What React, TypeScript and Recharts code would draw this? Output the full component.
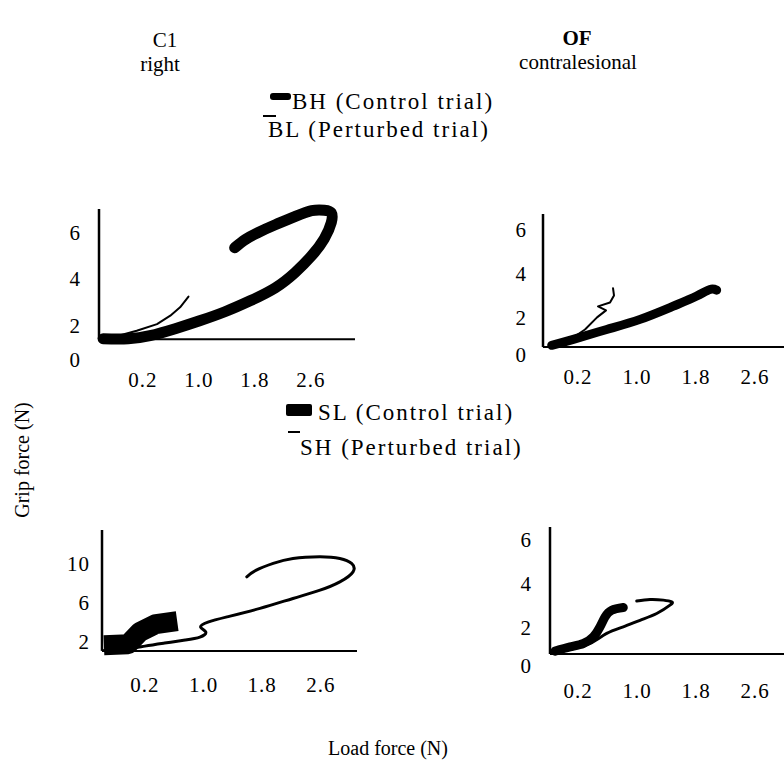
import type { CSSProperties, ReactNode } from "react";
import { Line, LineChart, XAxis, YAxis } from "recharts";

const SERIF = '"Liberation Serif", "Times New Roman", serif';

const loadTicks = [0.2, 1.0, 1.8, 2.6];

// C1 right, upper pair: BH control vs BL perturbed
const c1BhLoad = [-0.37, -0.01, 0.3, 0.66, 1.01, 1.37, 1.73, 2.09, 2.37, 2.61, 2.79, 2.89, 2.89, 2.79, 2.61, 2.37, 2.09, 1.84, 1.66, 1.51];
const c1BhGrip = [1.42, 1.42, 1.55, 1.85, 2.19, 2.58, 3.05, 3.61, 4.26, 4.99, 5.72, 6.41, 6.84, 6.95, 6.93, 6.67, 6.32, 5.98, 5.68, 5.33];
const c1BlLoad = [-0.3, -0.15, 0.11, 0.4, 0.59, 0.73, 0.85];
const c1BlGrip = [1.45, 1.55, 1.76, 2.05, 2.41, 2.77, 3.23];

// OF contralesional, upper pair
const ofBhLoad = [-0.157, 0.136, 0.589, 1.041, 1.492, 1.81, 1.99, 2.08];
const ofBhGrip = [0.73, 1.0, 1.45, 1.91, 2.51, 2.97, 3.27, 3.24];
const ofBlLoad = [0.024, 0.119, 0.295, 0.458, 0.58, 0.471, 0.634, 0.688, 0.675];
const ofBlGrip = [0.86, 1.05, 1.45, 2.0, 2.32, 2.5, 2.68, 3.0, 3.32];

// C1 right, lower pair: SL control vs SH perturbed
const c1SlLoad = [-0.36, -0.03, 0.13, 0.35, 0.64];
const c1SlGrip = [1.69, 1.79, 3.03, 3.85, 4.15];
const c1ShLoad = [-0.36, -0.07, 0.2, 0.47, 0.75, 0.95, 1.03, 0.96, 1.06, 1.32, 1.77, 2.22, 2.59, 2.86, 3.04, 3.02, 2.86, 2.59, 2.22, 1.95, 1.72, 1.59];
const c1ShGrip = [1.15, 1.28, 1.59, 1.9, 2.21, 2.51, 3.03, 3.54, 4.05, 4.59, 5.46, 6.48, 7.33, 8.18, 9.21, 10.07, 10.58, 10.75, 10.58, 10.07, 9.38, 8.7];

// OF contralesional, lower pair
const ofSlLoad = [-0.112, 0.092, 0.272, 0.407, 0.498, 0.566, 0.657, 0.814];
const ofSlGrip = [0.93, 1.12, 1.28, 1.58, 2.04, 2.49, 2.8, 2.92];
const ofShLoad = [-0.112, 0.136, 0.363, 0.589, 0.814, 1.041, 1.267, 1.447, 1.47, 1.357, 1.176, 0.996];
const ofShGrip = [0.87, 1.05, 1.28, 1.74, 2.04, 2.34, 2.65, 3.03, 3.18, 3.26, 3.29, 3.22];

const gripTicksSmall = [2, 4, 6];
const gripTicksLarge = [2, 6, 10];

const zip = (load: number[], grip: number[]) =>
  load.map((l, i) => ({ load: l, grip: grip[i] }));

type Trace = {
  name: string;
  points: { load: number; grip: number }[];
  width: number;
  curve: "natural" | "linear";
  cap?: "round" | "butt";
};

type PanelProps = {
  plot: [number, number, number, number]; // left, top, right, bottom of plot area
  xDomain: [number, number];
  yDomain: [number, number];
  yTicks: number[];
  zeroDrop?: number;
  yGap: number;
  xGap: number;
  traces: Trace[];
};

const Y_W = 50;
const X_H = 60;
const M_TOP = 12;
const TICK_FONT = { fill: "#000", fontSize: 21, fontFamily: SERIF, letterSpacing: 1 };

function GripTick(props: any) {
  const { x, y, payload, zeroAt, zeroDrop } = props;
  const isZero = zeroAt !== undefined && payload.value === zeroAt;
  return (
    <text
      x={x}
      y={y + (isZero ? zeroDrop : 0)}
      dy="0.35em"
      textAnchor="end"
      {...TICK_FONT}
    >
      {isZero ? 0 : payload.value}
    </text>
  );
}

function Panel({ plot, xDomain, yDomain, yTicks, zeroDrop, yGap, xGap, traces }: PanelProps) {
  const [l, t, r, b] = plot;
  const width = r - (l - Y_W);
  const height = b - t + M_TOP + X_H;
  const ticks = zeroDrop === undefined ? yTicks : [yDomain[0], ...yTicks];
  return (
    <div style={{ position: "absolute", left: l - Y_W, top: t - M_TOP }}>
      <LineChart
        width={width}
        height={height}
        margin={{ top: M_TOP, right: 0, bottom: 0, left: 0 }}
      >
        <XAxis
          type="number"
          dataKey="load"
          domain={xDomain}
          ticks={loadTicks}
          interval={0}
          tickFormatter={(v: number) => v.toFixed(1)}
          axisLine={{ stroke: "#000", strokeWidth: 2 }}
          tickLine={false}
          tickSize={0}
          tickMargin={xGap}
          height={X_H}
          tick={TICK_FONT}
        />
        <YAxis
          type="number"
          dataKey="grip"
          domain={yDomain}
          ticks={ticks}
          interval={0}
          width={Y_W}
          axisLine={{ stroke: "#000", strokeWidth: 2.5 }}
          tickLine={false}
          tickSize={0}
          tickMargin={yGap}
          tick={(p: any) => (
            <GripTick {...p} zeroAt={zeroDrop === undefined ? undefined : yDomain[0]} zeroDrop={zeroDrop} />
          )}
        />
        {traces.map((tr) => (
          <Line
            key={tr.name}
            name={tr.name}
            data={tr.points}
            dataKey="grip"
            type={tr.curve}
            stroke="#000"
            strokeWidth={tr.width}
            strokeLinecap={tr.cap ?? "round"}
            strokeLinejoin="round"
            dot={false}
            activeDot={false}
            isAnimationActive={false}
          />
        ))}
      </LineChart>
    </div>
  );
}

function Txt({ x, y, children, style }: { x: number; y: number; children: ReactNode; style?: CSSProperties }) {
  return (
    <div
      style={{
        position: "absolute",
        left: x,
        top: y,
        transform: "translate(-50%, -50%)",
        whiteSpace: "nowrap",
        lineHeight: 1,
        fontSize: 21,
        ...style,
      }}
    >
      {children}
    </div>
  );
}

function LegendItem({ x, y, children }: { x: number; y: number; children: ReactNode }) {
  return (
    <div
      style={{
        position: "absolute",
        left: x,
        top: y,
        transform: "translateY(-50%)",
        whiteSpace: "nowrap",
        lineHeight: 1,
        fontSize: 23,
        letterSpacing: 2,
      }}
    >
      {children}
    </div>
  );
}

const bar = (l: number, t: number, w: number, h: number, radius = 0): CSSProperties => ({
  position: "absolute",
  left: l,
  top: t,
  width: w,
  height: h,
  background: "#000",
  borderRadius: radius,
});

export default function App() {
  return (
    <div
      style={{
        position: "absolute",
        left: 0,
        top: 0,
        width: 784,
        height: 764,
        background: "#fff",
        overflow: "hidden",
        fontFamily: SERIF,
        color: "#000",
      }}
    >
      <Txt x={165} y={40}>C1</Txt>
      <Txt x={160} y={64}>right</Txt>
      <Txt x={577} y={38} style={{ fontWeight: "bold" }}>OF</Txt>
      <Txt x={578} y={62}>contralesional</Txt>

      <div style={bar(270, 93, 21, 7, 3)} />
      <LegendItem x={292} y={101}>BH (Control trial)</LegendItem>
      <div style={bar(263, 115, 13, 2)} />
      <LegendItem x={268} y={129}>BL (Perturbed trial)</LegendItem>

      <div style={bar(286, 404, 26, 12, 2)} />
      <LegendItem x={318} y={412}>SL (Control trial)</LegendItem>
      <div style={bar(288, 431, 12, 2)} />
      <LegendItem x={300} y={447}>SH (Perturbed trial)</LegendItem>

      <Txt x={22} y={460} style={{ fontSize: 20, transform: "translate(-50%, -50%) rotate(-90deg)" }}>
        Grip force (N)
      </Txt>
      <Txt x={388} y={748} style={{ fontSize: 20 }}>Load force (N)</Txt>

      <Panel
        plot={[99, 208.8, 355, 339]}
        xDomain={[-0.4286, 3.229]}
        yDomain={[1.4, 7]}
        yTicks={gripTicksSmall}
        zeroDrop={20}
        yGap={18}
        xGap={33}
        traces={[
          { name: "BH (Control trial)", points: zip(c1BhLoad, c1BhGrip), width: 11, curve: "natural" },
          { name: "BL (Perturbed trial)", points: zip(c1BlLoad, c1BlGrip), width: 2, curve: "linear" },
        ]}
      />
      <Panel
        plot={[543, 214.4, 784, 347.5]}
        xDomain={[-0.2746, 2.993]}
        yDomain={[0.65, 6.7]}
        yTicks={gripTicksSmall}
        zeroDrop={7.5}
        yGap={16}
        xGap={22}
        traces={[
          { name: "BH (Control trial)", points: zip(ofBhLoad, ofBhGrip), width: 9, curve: "natural" },
          { name: "BL (Perturbed trial)", points: zip(ofBlLoad, ofBlGrip), width: 2, curve: "linear" },
        ]}
      />
      <Panel
        plot={[102, 530.1, 357, 651]}
        xDomain={[-0.386, 3.094]}
        yDomain={[1.1, 13.5]}
        yTicks={gripTicksLarge}
        yGap={12}
        xGap={26}
        traces={[
          { name: "SL (Control trial)", points: zip(c1SlLoad, c1SlGrip), width: 20, curve: "linear", cap: "butt" },
          { name: "SH (Perturbed trial)", points: zip(c1ShLoad, c1ShGrip), width: 3, curve: "natural" },
        ]}
      />
      <Panel
        plot={[550, 526.5, 784, 653.5]}
        xDomain={[-0.18, 2.993]}
        yDomain={[0.8, 6.6]}
        yTicks={gripTicksSmall}
        zeroDrop={11.5}
        yGap={18}
        xGap={29}
        traces={[
          { name: "SL (Control trial)", points: zip(ofSlLoad, ofSlGrip), width: 9, curve: "natural" },
          { name: "SH (Perturbed trial)", points: zip(ofShLoad, ofShGrip), width: 3, curve: "natural" },
        ]}
      />
    </div>
  );
}
